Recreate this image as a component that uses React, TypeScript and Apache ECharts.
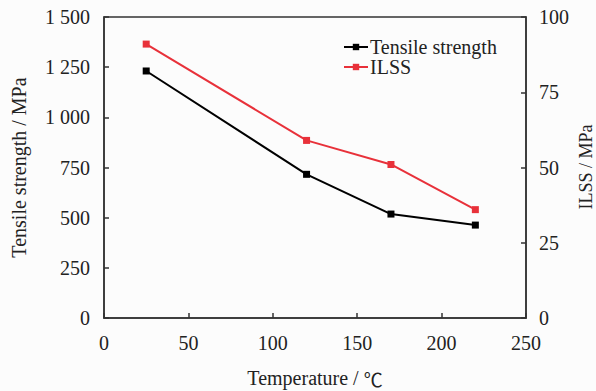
import React, { useEffect, useRef } from "react";
import * as echarts from "echarts";

const temperatures = [25, 120, 170, 220];
const tensileStrength = [1231, 716, 518, 463];
const ilss = [91, 59, 51, 36];
const FONT = "'Liberation Serif', 'Times New Roman', serif";

function fmtThousands(v: number): string {
  const s = String(v);
  if (s.length > 3) return s.slice(0, s.length - 3) + " " + s.slice(s.length - 3);
  return s;
}

export default function App() {
  const ref = useRef<HTMLDivElement>(null);
  useEffect(() => {
    if (!ref.current) return;
    const chart = echarts.init(ref.current, undefined, { renderer: "svg" });
    const axisLine = { show: true, lineStyle: { color: "#333", width: 1.5 } };
    const textStyle = { fontFamily: FONT, fontSize: 20, color: "#222" };
    const labelStyle = (margin: number, fmt: (v: number) => string) => ({
      show: true,
      fontFamily: FONT,
      fontSize: 20,
      color: "#222",
      margin,
      formatter: (v: number) => fmt(v),
    });
    const tick = { show: true, inside: true, length: 5, lineStyle: { color: "#333", width: 1.5 } };
    chart.setOption({
      animation: false,
      backgroundColor: "#fcfcfc",
      textStyle: { fontFamily: FONT },
      grid: {
        left: 104,
        right: 70,
        top: 17,
        bottom: 73,
        show: true,
        borderColor: "#333",
        borderWidth: 1.5,
        containLabel: false,
        outerBoundsMode: "none",
      },
      legend: {
        orient: "vertical",
        left: 338,
        top: 32,
        itemGap: 0,
        itemWidth: 24,
        itemHeight: 8,
        textStyle: { ...textStyle, padding: [0, 0, 0, -3] },
        data: ["Tensile strength", "ILSS"],
      },
      graphic: [
        {
          type: "text",
          x: 586,
          y: 167,
          rotation: Math.PI / 2,
          style: {
            text: "ILSS / MPa",
            fontFamily: FONT,
            fontSize: 18,
            fill: "#222",
            align: "center",
            verticalAlign: "middle",
          },
        },
      ],
      xAxis: {
        type: "value",
        min: 0,
        max: 250,
        interval: 50,
        name: "Temperature / {c|\u2103}",
        nameLocation: "middle",
        nameGap: 50,
        nameTextStyle: {
          ...textStyle,
          rich: { c: { fontFamily: "'Noto Sans CJK SC'", fontSize: 19, color: "#222" } },
        },
        axisLine,
        axisTick: tick,
        axisLabel: labelStyle(15, (v) => String(v)),
        splitLine: { show: false },
      },
      yAxis: [
        {
          type: "value",
          min: 0,
          max: 1500,
          interval: 250,
          name: "Tensile strength / MPa",
          nameLocation: "middle",
          nameRotate: 90,
          nameGap: 75,
          nameTextStyle: textStyle,
          axisLine,
          axisTick: tick,
          axisLabel: labelStyle(14, fmtThousands),
          splitLine: { show: false },
        },
        {
          type: "value",
          min: 0,
          max: 100,
          interval: 25,
          position: "right",
          axisLine,
          axisTick: tick,
          axisLabel: labelStyle(13, (v) => String(v)),
          splitLine: { show: false },
        },
      ],
      series: [
        {
          name: "Tensile strength",
          type: "line",
          yAxisIndex: 0,
          data: temperatures.map((t, i) => [t, tensileStrength[i]]),
          symbol: "rect",
          symbolSize: 7,
          color: "#000000",
          lineStyle: { color: "#000000", width: 2 },
          itemStyle: { color: "#000000" },
        },
        {
          name: "ILSS",
          type: "line",
          yAxisIndex: 1,
          data: temperatures.map((t, i) => [t, ilss[i]]),
          symbol: "rect",
          symbolSize: 7,
          color: "#e8313a",
          lineStyle: { color: "#e8313a", width: 2 },
          itemStyle: { color: "#e8313a" },
        },
      ],
    });
    return () => chart.dispose();
  }, []);
  return (
    <div
      ref={ref}
      style={{ position: "fixed", left: 0, top: 0, width: 596, height: 391 }}
    />
  );
}
